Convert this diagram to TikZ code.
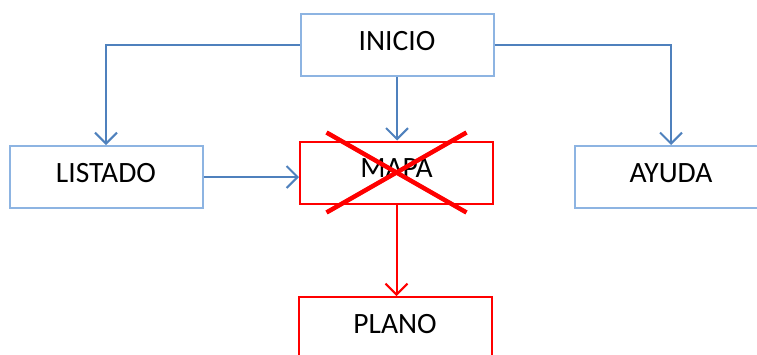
\documentclass[tikz,border=0pt]{standalone}
\usepackage{fontspec}
\setmainfont{Carlito}
\usetikzlibrary{arrows.meta}

\definecolor{bordeazul}{RGB}{141,180,226}
\definecolor{lineaazul}{RGB}{79,129,189}
\definecolor{rojo}{RGB}{255,0,0}

\begin{document}
\begin{tikzpicture}[x=1pt,y=-1pt,
        caja/.style={draw=bordeazul,line width=2pt,minimum width=193pt,minimum height=62pt,
            inner sep=0pt,text height=18pt,text depth=8pt,font=\fontsize{29.5}{31}\selectfont},
        cajaroja/.style={caja,draw=rojo},
        flecha/.style={draw=lineaazul,line width=2pt,-{Straight Barb[length=11pt,width=22pt,line width=2pt]}},
        flecharoja/.style={flecha,draw=rojo}]
            \useasboundingbox (0,0) rectangle (757,354);
            \clip (0,0) rectangle (757,354);

            \node[caja] (inicio) at (397,45) {INICIO};
            \node[caja] (listado) at (106,177) {LISTADO};
            \node[cajaroja] (mapa) at (396.5,172.5) {MAPA};
            \node[caja] (ayuda) at (671,177) {AYUDA};
            \node[cajaroja] (plano) at (395,328) {PLANO};

            \draw[flecha] (inicio.west) -| (listado.north);
            \draw[flecha] (inicio.east) -| (ayuda.north);
            \draw[flecha] (inicio.south) -- (inicio.south |- mapa.north);
            \draw[flecha] (listado.east) -- (listado.east -| mapa.west);
            \draw[flecharoja] (mapa.south) -- (mapa.south |- plano.north);

            \draw[rojo,line width=4.5pt] ([shift={(-70,-40)}]mapa.center) -- ([shift={(70,40)}]mapa.center);
            \draw[rojo,line width=4.5pt] ([shift={(70,-40)}]mapa.center) -- ([shift={(-70,40)}]mapa.center);
        \end{tikzpicture}
\end{document}
